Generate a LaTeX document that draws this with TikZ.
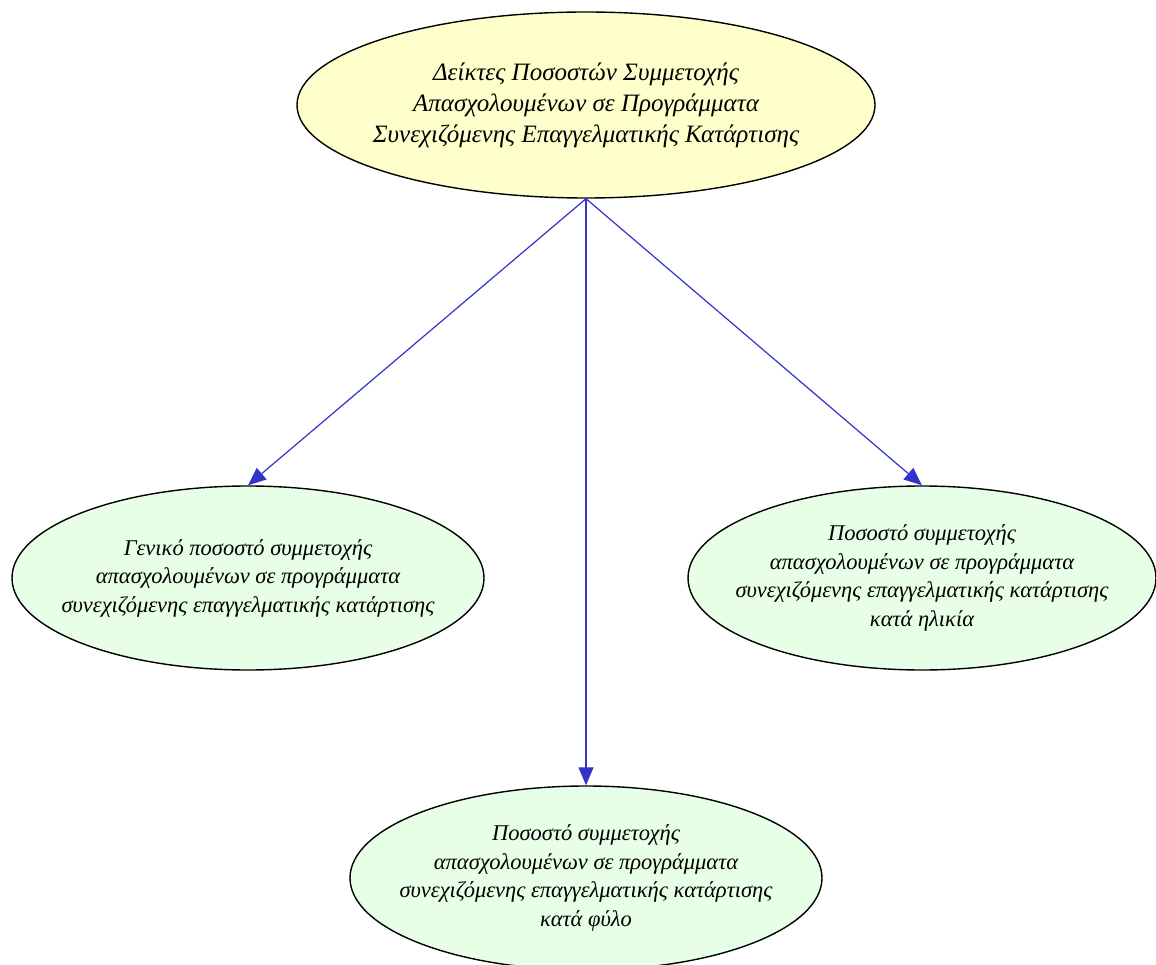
\documentclass[tikz,border=0pt]{standalone}
\usepackage{fontspec}
\setmainfont{Liberation Serif}
\usepackage{tikz}
\usetikzlibrary{arrows.meta,shapes.geometric}
\definecolor{topfill}{HTML}{FFFFCC}
\definecolor{subfill}{HTML}{E6FFE6}
\definecolor{linkblue}{HTML}{3333CC}

\begin{document}
\begin{tikzpicture}[x=1pt,y=-1pt,>={Triangle[length=18pt,width=15pt]},
  bubble/.style={ellipse,draw,line width=1.4pt,inner xsep=-40pt,inner ysep=-10pt,
    align=center,font=\itshape\fontsize{22.5}{28.5}\selectfont,fill=subfill,
    minimum width=472pt,minimum height=184pt},
  link/.style={->,linkblue,line width=1.2pt}]
  \useasboundingbox (0,0) rectangle (1156,965);
  \clip (0,0) rectangle (1156,965);

  \node[bubble,fill=topfill,font=\itshape\fontsize{25}{31}\selectfont,
    minimum width=578pt,minimum height=186pt] (top) at (586,105)
    {Δείκτες Ποσοστών Συμμετοχής\\Απασχολουμένων σε Προγράμματα\\Συνεχιζόμενης Επαγγελματικής Κατάρτισης};

  \node[bubble] (general) at (248,578)
    {Γενικό ποσοστό συμμετοχής\\απασχολουμένων σε προγράμματα\\συνεχιζόμενης επαγγελματικής κατάρτισης};
  \node[bubble,minimum width=468pt] (age) at (922,578)
    {Ποσοστό συμμετοχής\\απασχολουμένων σε προγράμματα\\συνεχιζόμενης επαγγελματικής κατάρτισης\\κατά ηλικία};
  \node[bubble] (sex) at (586,878)
    {Ποσοστό συμμετοχής\\απασχολουμένων σε προγράμματα\\συνεχιζόμενης επαγγελματικής κατάρτισης\\κατά φύλο};

  \draw[link] (top.south) -- (general.north);
  \draw[link] (top.south) -- (sex.north);
  \draw[link] (top.south) -- (age.north);
\end{tikzpicture}
\end{document}
